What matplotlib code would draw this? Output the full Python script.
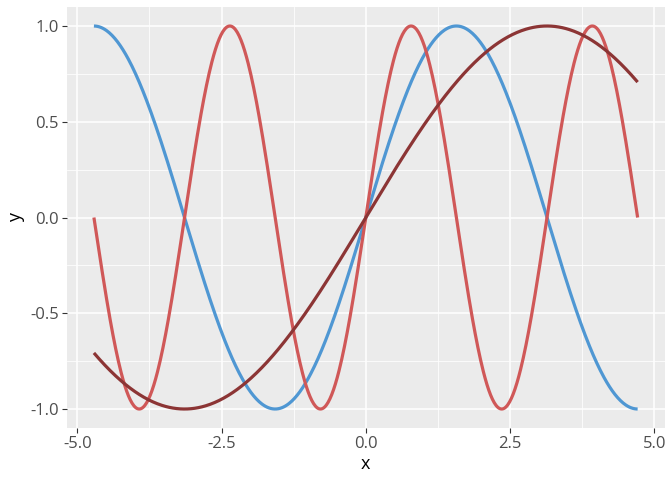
import numpy as np
import matplotlib
matplotlib.use("Agg")
import matplotlib.pyplot as plt
from matplotlib.ticker import MultipleLocator

plt.rcParams['font.family'] = ['Open Sans', 'DejaVu Sans']

# curves: y = sin(freq * x), x from -3pi/2 to 3pi/2
x_min, x_max = -3 * np.pi / 2, 3 * np.pi / 2
freqs = [1.0, 2.0, 0.5]
colors = ['#4F97D3', '#D05858', '#8C3535']

x = np.linspace(x_min, x_max, 600)

fig = plt.figure(figsize=(6.72, 4.8), dpi=100)
ax = fig.add_axes([0.0993, 0.108, 0.890, 0.8777])
ax.set_facecolor('#EBEBEB')

for f, c in zip(freqs, colors):
    ax.plot(x, np.sin(f * x), color=c, linewidth=2.3, solid_capstyle='butt')

ax.margins(x=0.05, y=0.05)
ax.xaxis.set_major_locator(MultipleLocator(2.5))
ax.xaxis.set_minor_locator(MultipleLocator(1.25))
ax.yaxis.set_major_locator(MultipleLocator(0.5))
ax.yaxis.set_minor_locator(MultipleLocator(0.25))
ax.xaxis.set_major_formatter(plt.FuncFormatter(lambda v, p: f'{v:.1f}'))
ax.yaxis.set_major_formatter(plt.FuncFormatter(lambda v, p: f'{v:.1f}'))

ax.grid(which='major', color='white', linewidth=1.1)
ax.grid(which='minor', color='white', linewidth=0.55)
ax.set_axisbelow(True)
for s in ax.spines.values():
    s.set_visible(False)

ax.tick_params(which='major', length=3.5, width=0.8, color='#333333',
               labelcolor='#4D4D4D', labelsize=12, pad=2)
ax.tick_params(which='minor', length=0)

ax.set_xlabel('x', fontsize=13, labelpad=2)
ax.set_ylabel('y', fontsize=13, labelpad=4)

fig.savefig('out.png', dpi=100)
